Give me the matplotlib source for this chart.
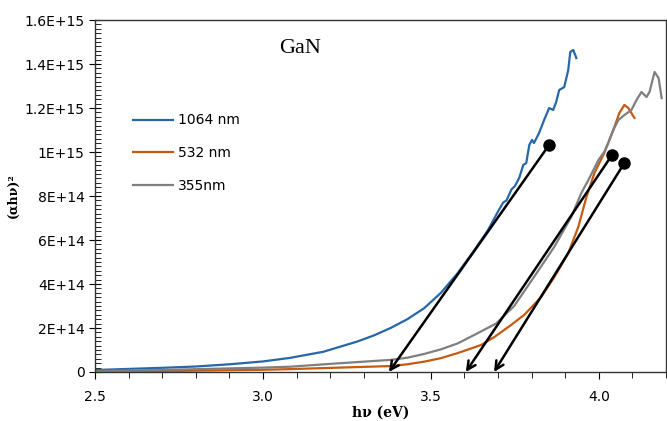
import numpy as np
import matplotlib
matplotlib.use("Agg")
import matplotlib.pyplot as plt
from matplotlib.ticker import MultipleLocator, FixedLocator, FixedFormatter

# photon energy (eV) and (alpha h nu)^2 in units of 1e15
x_1064 = [2.5, 2.6, 2.7, 2.8, 2.9, 3.0, 3.08, 3.18, 3.28, 3.33, 3.38, 3.43, 3.48,
          3.53, 3.58, 3.63, 3.67, 3.70, 3.715, 3.725, 3.74, 3.75, 3.763, 3.775,
          3.784, 3.793, 3.801, 3.807, 3.822, 3.837, 3.852, 3.864, 3.873, 3.882,
          3.897, 3.909, 3.915, 3.924, 3.933]
y_1064 = [0.009, 0.014, 0.019, 0.025, 0.035, 0.048, 0.064, 0.092, 0.138, 0.166,
          0.20, 0.24, 0.29, 0.36, 0.45, 0.555, 0.645, 0.73, 0.77, 0.78, 0.83,
          0.845, 0.882, 0.941, 0.95, 1.032, 1.055, 1.041, 1.086, 1.145, 1.20,
          1.191, 1.227, 1.282, 1.295, 1.373, 1.455, 1.464, 1.427]

x_532 = [2.5, 2.75, 3.0, 3.08, 3.23, 3.38, 3.43, 3.48, 3.53, 3.58, 3.65, 3.69,
         3.739, 3.778, 3.828, 3.867, 3.909, 3.939, 3.963, 3.987, 4.016, 4.043,
         4.061, 4.076, 4.088, 4.097, 4.106]
y_532 = [0.002, 0.005, 0.010, 0.013, 0.020, 0.027, 0.035, 0.047, 0.063, 0.086,
         0.123, 0.16, 0.214, 0.26, 0.34, 0.43, 0.54, 0.66, 0.795, 0.905, 0.995,
         1.10, 1.177, 1.214, 1.20, 1.177, 1.155]

x_355 = [2.5, 2.75, 3.0, 3.08, 3.23, 3.38, 3.43, 3.48, 3.53, 3.58, 3.64, 3.694,
         3.748, 3.807, 3.867, 3.918, 3.948, 3.969, 3.999, 4.016, 4.028, 4.043,
         4.058, 4.076, 4.097, 4.112, 4.127, 4.142, 4.151, 4.166, 4.178, 4.187]
y_355 = [0.004, 0.011, 0.020, 0.024, 0.040, 0.055, 0.065, 0.082, 0.103, 0.13,
         0.177, 0.22, 0.30, 0.432, 0.568, 0.705, 0.814, 0.873, 0.964, 1.0,
         1.041, 1.10, 1.145, 1.168, 1.191, 1.236, 1.273, 1.25, 1.273, 1.364,
         1.336, 1.245]

# Tauc extrapolation lines: (start x, start y) -> band gap on the axis
fit_x0 = [3.852, 4.040, 4.076]
fit_y0 = [1.032, 0.988, 0.950]
band_gap = [3.375, 3.604, 3.688]

y_ticks = [0, 0.2, 0.4, 0.6, 0.8, 1.0, 1.2, 1.4, 1.6]
y_labels = ["0", "2E+14", "4E+14", "6E+14", "8E+14", "1E+15", "1.2E+15",
            "1.4E+15", "1.6E+15"]

c_blue = "#2767a8"
c_orange = "#c55a11"
c_gray = "#7f7f7f"

fig = plt.figure(figsize=(6.67, 4.21), dpi=100)
ax = fig.add_axes([0.1424, 0.1164, 0.8561, 0.836])

ax.plot(x_1064, np.array(y_1064) * 1e15, color=c_blue, lw=1.6, label="1064 nm")
ax.plot(x_532, np.array(y_532) * 1e15, color=c_orange, lw=1.6, label="532 nm")
ax.plot(x_355, np.array(y_355) * 1e15, color=c_gray, lw=1.6, label="355nm")

for x0, y0, eg in zip(fit_x0, fit_y0, band_gap):
    ax.annotate("", xy=(eg, 0), xytext=(x0, y0 * 1e15),
                arrowprops=dict(arrowstyle="->,head_length=0.6,head_width=0.3",
                                color="black", lw=1.8, shrinkA=0, shrinkB=0))
    ax.plot(x0, y0 * 1e15, "o", color="black", ms=8)

ax.set_xlim(2.5, 4.2)
ax.set_ylim(0, 1.6e15)
ax.xaxis.set_major_locator(MultipleLocator(0.5))
ax.xaxis.set_minor_locator(MultipleLocator(0.1))
ax.yaxis.set_major_locator(FixedLocator([v * 1e15 for v in y_ticks]))
ax.yaxis.set_major_formatter(FixedFormatter(y_labels))
ax.yaxis.set_minor_locator(MultipleLocator(2e13))
ax.tick_params(axis="x", which="both", direction="out", labelsize=10, pad=8)
ax.tick_params(axis="x", which="major", length=5)
ax.tick_params(axis="x", which="minor", length=4)
ax.tick_params(axis="y", which="major", direction="inout", length=8, labelsize=10)
ax.tick_params(axis="y", which="minor", direction="in", length=4)
for s in ax.spines.values():
    s.set_linewidth(1.0)
    s.set_color("#333333")

ax.set_xlabel("hν (eV)", family="DejaVu Serif", fontweight="bold", fontsize=10,
              labelpad=1)
ax.set_ylabel("(αhν)²", family="DejaVu Serif", fontweight="bold", fontsize=9,
              labelpad=3)

ax.text(3.11, 1.47e15, "GaN", family="Liberation Serif", fontsize=16,
        ha="center", va="center")

ax.legend(loc="upper left", bbox_to_anchor=(0.045, 0.77), frameon=False,
          fontsize=10, handlelength=2.9, labelspacing=1.35, handletextpad=0.3)

fig.savefig("out.png", dpi=100)
